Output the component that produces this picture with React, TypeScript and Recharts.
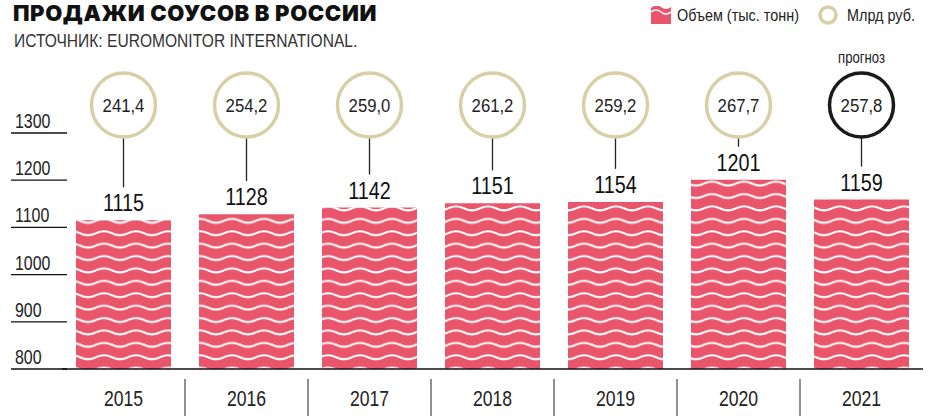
import React from 'react';
import { ComposedChart, Bar, XAxis, YAxis, LabelList, ReferenceLine } from 'recharts';

const years = ['2015', '2016', '2017', '2018', '2019', '2020', '2021'];
const volume = [1115, 1128, 1142, 1151, 1154, 1201, 1159];
const revenue = [241.4, 254.2, 259.0, 261.2, 259.2, 267.7, 257.8];
const forecast = [false, false, false, false, false, false, true];
const yTicks = [800, 900, 1000, 1100, 1200, 1300];

const data = years.map((y, i) => ({ year: y, volume: volume[i], revenue: revenue[i], forecast: forecast[i] }));

const W = 928;
const H = 416;
const M = { top: 133, right: 5, left: 0, bottom: 0 };
const Y_W = 62;
const X_H = 47;
const BAND = (W - M.left - M.right - Y_W) / years.length;
const SANS = '"Liberation Sans", Arial, sans-serif';
const PINK = '#e9566c';
const BEIGE = '#d8cfa6';
const R = 32;

const fmt = (v: number) => v.toFixed(1).replace('.', ',');

const CText = ({ x, y, size, sx = 0.8, anchor = 'start', fill = '#222', weight = 400, family = SANS, children }: any) => (
  <g transform={`translate(${x} ${y}) scale(${sx} 1)`}>
    <text x={0} y={0} textAnchor={anchor} fontFamily={family} fontSize={size} fontWeight={weight} fill={fill}>{children}</text>
  </g>
);

const YTick = (props: any) => {
  const { y, payload } = props;
  return (
    <g>
      <line x1={11} x2={67} y1={y} y2={y} stroke="#111" strokeWidth={1.3} />
      <CText x={15} y={y - 5} size={21} sx={0.76}>{payload.value}</CText>
    </g>
  );
};

const XTick = (props: any) => {
  const { x, y, payload, index } = props;
  return (
    <g>
      <CText x={x} y={y + 29} size={22} sx={0.8} anchor="middle">{payload.value}</CText>
      {index < years.length - 1 && (
        <line x1={x + BAND / 2} x2={x + BAND / 2} y1={y + 2} y2={H} stroke="#222" strokeWidth={1} />
      )}
    </g>
  );
};

const BarLabel = (props: any) => {
  const { x, y, width, value, index } = props;
  const cx = x + width / 2;
  const cy = M.top - 28;
  const d = data[index];
  return (
    <g>
      <line x1={cx} x2={cx} y1={cy + R} y2={y - 33} stroke="#222" strokeWidth={1.3} />
      <circle cx={cx} cy={cy} r={R} fill="#fff" stroke={d.forecast ? '#1a1a1a' : BEIGE} strokeWidth={3.5} />
      <CText x={cx} y={cy + 7} size={19} sx={0.88} anchor="middle">{fmt(d.revenue)}</CText>
      <CText x={cx} y={y - 9} size={23} sx={0.86} anchor="middle" fill="#111">{value}</CText>
      {d.forecast && (
        <CText x={cx} y={cy - R - 10} size={16} sx={0.82} anchor="middle">прогноз</CText>
      )}
    </g>
  );
};

export default function App() {
  return (
    <div style={{ position: 'absolute', left: 0, top: 0, width: W, height: H, background: '#fff', overflow: 'hidden' }}>
      <div style={{ position: 'absolute', left: 0, top: 0 }}>
        <ComposedChart width={W} height={H} data={data} margin={M} barSize={95}>
          <defs>
            <pattern id="waves" patternUnits="userSpaceOnUse" width={32} height={12.4} x={0} y={4}>
              <rect x={0} y={0} width={32} height={12.4} fill={PINK} />
              <path d="M0 6 Q8 2 16 6 T32 6" stroke="#fff" strokeWidth={2} fill="none" />
            </pattern>
          </defs>
          <XAxis dataKey="year" height={X_H} axisLine={false} tickLine={false} tick={<XTick />} interval={0} />
          <YAxis width={Y_W} domain={[800, 1300]} ticks={yTicks} allowDataOverflow axisLine={false} tickLine={false} tick={<YTick />} />
          <ReferenceLine y={800} stroke="#111" strokeWidth={1.5} ifOverflow="visible" />
          <Bar dataKey="volume" fill="url(#waves)" isAnimationActive={false}>
            <LabelList dataKey="volume" content={<BarLabel />} />
          </Bar>
        </ComposedChart>
      </div>
      <svg width={W} height={60} style={{ position: 'absolute', left: 0, top: 0, pointerEvents: 'none' }}>
        <text x={13} y={21} fontFamily='Inter, "DejaVu Sans", sans-serif' fontWeight={900} fontSize={22} letterSpacing={0.6} fill="#111">ПРОДАЖИ СОУСОВ В РОССИИ</text>
        <CText x={14} y={47} size={19} sx={0.82} fill="#333">ИСТОЧНИК: EUROMONITOR INTERNATIONAL.</CText>
        <rect x={651} y={6} width={20} height={18} fill={PINK} />
        <path d="M651 8 Q656 3 661 7 T671 7 L671 5 L651 5 Z" fill="#fff" />
        <path d="M651 12 Q656 8 661 12 T671 12" stroke="#fff" strokeWidth={1.6} fill="none" />
        <CText x={677} y={21} size={16} sx={0.9}>Объем (тыс. тонн)</CText>
        <circle cx={828} cy={15} r={8} fill="#fff" stroke={BEIGE} strokeWidth={3.5} />
        <CText x={847} y={21} size={16} sx={0.9}>Млрд руб.</CText>
      </svg>
    </div>
  );
}
